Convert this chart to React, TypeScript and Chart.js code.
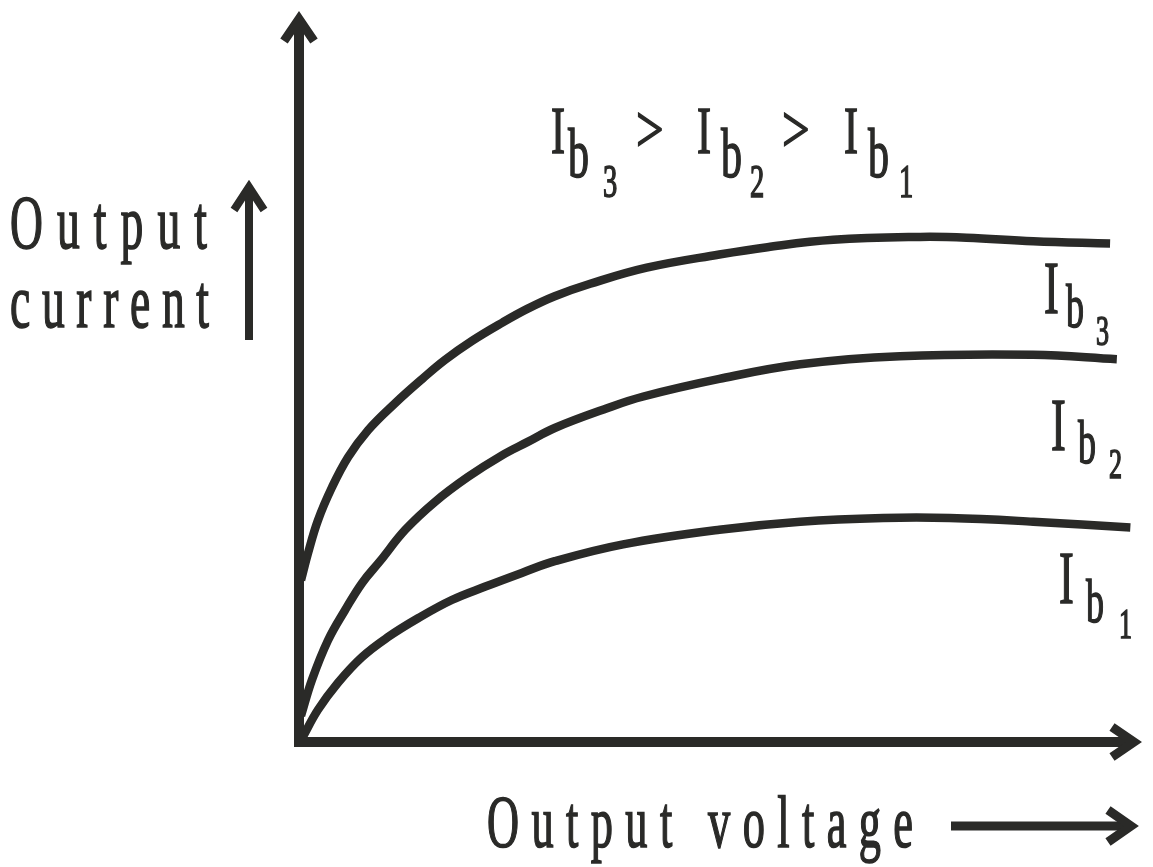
import React, { useEffect, useRef } from "react";
import { Chart, registerables } from "chart.js";

Chart.register(...registerables);

// Output voltage (x) and output current (y), arbitrary units 0..100
const ib3Voltage = [0.24, 1.07, 2.25, 3.91, 5.81, 8.18, 11.4, 14.6, 17.3, 20.5, 24.1, 27.1, 30.3, 34.5, 41.2, 49.8, 55.5, 63.3, 73.6, 79.1, 87.0, 96.1];
const ib3Current = [22.1, 25.8, 30.3, 34.8, 38.9, 42.6, 46.3, 49.6, 52.2, 54.8, 57.3, 59.2, 60.9, 62.6, 64.8, 66.6, 67.6, 68.6, 69.0, 68.9, 68.4, 68.1];

const ib2Voltage = [0.24, 1.54, 3.44, 5.45, 7.46, 9.6, 12.6, 16.1, 20.0, 24.1, 27.1, 30.3, 36.5, 40.8, 49.8, 59.4, 71.2, 87.0, 96.9];
const ib2Current = [3.6, 8.5, 13.9, 18.0, 21.7, 24.7, 29.0, 32.8, 36.2, 39.2, 41.0, 42.9, 45.6, 47.2, 49.6, 51.6, 52.7, 52.9, 52.3];

const ib1Voltage = [0.36, 2.25, 4.62, 7.46, 10.5, 14.1, 18.1, 22.0, 26.4, 30.3, 38.4, 49.8, 59.4, 69.2, 77.1, 87.0, 98.5];
const ib1Current = [0.5, 4.4, 8.1, 11.6, 14.3, 16.9, 19.4, 21.2, 23.1, 24.7, 27.0, 29.0, 30.1, 30.6, 30.6, 30.1, 29.3];

const seriesNames = ["Ib3", "Ib2", "Ib1"];

const INK = "#2a2a28";
const FONT = '"Liberation Serif", "DejaVu Serif", serif';

function toPoints(xs: number[], ys: number[]) {
  return xs.map((x, i) => ({ x, y: ys[i] }));
}

function glyph(ctx: CanvasRenderingContext2D, ch: string, x: number, baseline: number, size: number, sx: number) {
  ctx.save();
  ctx.font = `${size}px ${FONT}`;
  ctx.translate(x, baseline);
  ctx.scale(sx, 1);
  ctx.lineWidth = 1.6;
  ctx.fillText(ch, 0, 0);
  ctx.strokeText(ch, 0, 0);
  ctx.restore();
}

function justified(ctx: CanvasRenderingContext2D, text: string, left: number, right: number, baseline: number, size: number, sx: number) {
  ctx.save();
  ctx.font = `${size}px ${FONT}`;
  const chars = [...text];
  const widths = chars.map((c) => ctx.measureText(c).width * sx);
  const total = widths.reduce((a, b) => a + b, 0);
  const gap = chars.length > 1 ? (right - left - total) / (chars.length - 1) : 0;
  let x = left;
  chars.forEach((c, i) => {
    ctx.save();
    ctx.translate(x, baseline);
    ctx.scale(sx, 1);
    ctx.lineWidth = 1.6;
    ctx.fillText(c, 0, 0);
    ctx.strokeText(c, 0, 0);
    ctx.restore();
    x += widths[i] + gap;
  });
  ctx.restore();
}

function chevron(ctx: CanvasRenderingContext2D, pts: number[][], w: number) {
  ctx.save();
  ctx.lineWidth = w;
  ctx.lineJoin = "miter";
  ctx.miterLimit = 10;
  ctx.lineCap = "butt";
  ctx.beginPath();
  ctx.moveTo(pts[0][0], pts[0][1]);
  ctx.lineTo(pts[1][0], pts[1][1]);
  ctx.lineTo(pts[2][0], pts[2][1]);
  ctx.stroke();
  ctx.restore();
}

const decorations = {
  id: "decorations",
  afterDatasetsDraw(chart: any) {
    const ctx: CanvasRenderingContext2D = chart.ctx;
    const xs = chart.scales.x;
    const ys = chart.scales.y;
    const x0 = xs.getPixelForValue(0);
    const y0 = ys.getPixelForValue(0);
    const xEnd = xs.getPixelForValue(100);
    const yEnd = ys.getPixelForValue(100);
    ctx.save();
    ctx.strokeStyle = INK;
    ctx.fillStyle = INK;

    // axes
    ctx.lineWidth = 10;
    ctx.lineCap = "butt";
    ctx.beginPath();
    ctx.moveTo(x0, y0 + 5);
    ctx.lineTo(x0, yEnd + 12);
    ctx.stroke();
    ctx.beginPath();
    ctx.moveTo(x0 - 5, y0);
    ctx.lineTo(xEnd - 12, y0);
    ctx.stroke();
    chevron(ctx, [[x0 - 15, yEnd + 31], [x0, yEnd + 9], [x0 + 15, yEnd + 31]], 9);
    chevron(ctx, [[xEnd - 31, y0 - 15], [xEnd - 9, y0], [xEnd - 31, y0 + 15]], 9);

    // side arrow for "Output current"
    ctx.lineWidth = 8;
    ctx.beginPath();
    ctx.moveTo(249, 340);
    ctx.lineTo(249, 192);
    ctx.stroke();
    chevron(ctx, [[234, 210], [249, 187], [264, 210]], 8);

    // arrow after "Output voltage"
    ctx.lineWidth = 9;
    ctx.beginPath();
    ctx.moveTo(951, 826);
    ctx.lineTo(1130, 826);
    ctx.stroke();
    chevron(ctx, [[1108, 810], [1131, 826], [1108, 842]], 9);

    // axis labels
    justified(ctx, "Output", 10, 207, 248, 76, 0.6);
    justified(ctx, "current", 10, 209, 327, 76, 0.6);
    justified(ctx, "Output voltage", 487, 913, 847, 74, 0.6);

    // relation text
    const big = 68;
    const sub = 46;
    glyph(ctx, "I", 551, 153, big, 0.62);
    glyph(ctx, "b", 568, 177, 70, 0.6);
    glyph(ctx, "3", 603, 197, sub, 0.62);
    glyph(ctx, ">", 636, 152, big, 0.72);
    glyph(ctx, "I", 697, 153, big, 0.62);
    glyph(ctx, "b", 721, 177, 70, 0.6);
    glyph(ctx, "2", 750, 197, sub, 0.62);
    glyph(ctx, ">", 782, 152, big, 0.72);
    glyph(ctx, "I", 844, 153, big, 0.62);
    glyph(ctx, "b", 868, 177, 70, 0.6);
    glyph(ctx, "1", 899, 197, sub, 0.62);

    // curve labels
    const labelPos = [
      { name: seriesNames[0], ix: 1044, iy: 313, bx: 1066, by: 327, dx: 1096, dy: 345, d: "3" },
      { name: seriesNames[1], ix: 1051, iy: 450, bx: 1078, by: 463, dx: 1109, dy: 478, d: "2" },
      { name: seriesNames[2], ix: 1059, iy: 603, bx: 1086, by: 622, dx: 1119, dy: 638, d: "1" },
    ];
    labelPos.forEach((p) => {
      glyph(ctx, "I", p.ix, p.iy, 74, 0.6);
      glyph(ctx, "b", p.bx, p.by, 62, 0.58);
      glyph(ctx, p.d, p.dx, p.dy, 42, 0.62);
    });
    ctx.restore();
  },
};

export default function App() {
  const canvasRef = useRef<HTMLCanvasElement | null>(null);

  useEffect(() => {
    if (!canvasRef.current) return;
    const mk = (label: string, xs: number[], ys: number[]) => ({
      label,
      data: toPoints(xs, ys),
      borderColor: INK,
      borderWidth: 8.5,
      pointRadius: 0,
      fill: false,
      tension: 0.4,
      borderCapStyle: "butt" as const,
      borderJoinStyle: "round" as const,
      clip: false as any,
    });
    const chart = new Chart(canvasRef.current, {
      type: "line",
      data: {
        datasets: [
          mk(seriesNames[0], ib3Voltage, ib3Current),
          mk(seriesNames[1], ib2Voltage, ib2Current),
          mk(seriesNames[2], ib1Voltage, ib1Current),
        ],
      },
      options: {
        animation: false,
        responsive: true,
        maintainAspectRatio: false,
        layout: { padding: { left: 299, right: 10, top: 10, bottom: 125 } },
        plugins: { legend: { display: false }, tooltip: { enabled: false } },
        scales: {
          x: { type: "linear", min: 0, max: 100, display: false },
          y: { type: "linear", min: 0, max: 100, display: false },
        },
      },
      plugins: [decorations],
    });
    return () => chart.destroy();
  }, []);

  return (
    <div style={{ position: "absolute", left: 0, top: 0, width: 1153, height: 867, background: "#fff" }}>
      <canvas ref={canvasRef} />
    </div>
  );
}
